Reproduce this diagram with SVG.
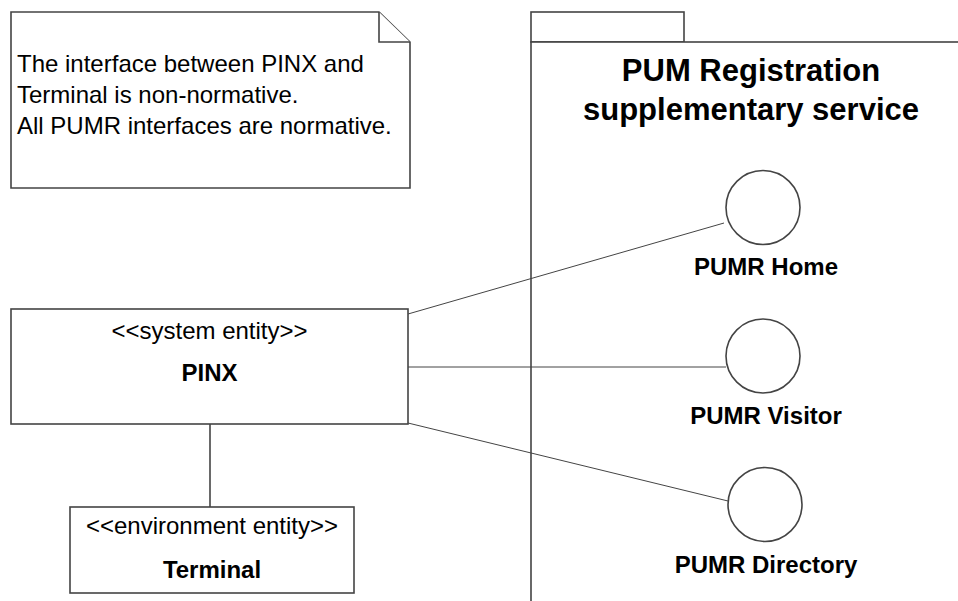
<svg xmlns="http://www.w3.org/2000/svg" width="958" height="601" viewBox="0 0 958 601">
<style>
.box{fill:#fff;stroke:#444;stroke-width:1.6}
.con{fill:none;stroke:#444;stroke-width:1}
.t{font-family:"Liberation Sans",Arial,sans-serif;font-size:24px;fill:#000}
.b{font-weight:bold}
.c{text-anchor:middle}
</style>
<rect width="958" height="601" fill="#fff"/>
<g id="package">
<rect class="box" x="531" y="12" width="153" height="30"/>
<rect class="box" x="531" y="42" width="500" height="600"/>
<text class="t b c" x="751" y="81" style="font-size:31px">PUM Registration</text>
<text class="t b c" x="751" y="120" style="font-size:31px">supplementary service</text>
</g>
<g id="note">
<path class="box" d="M11,12 H379 L410,42 V188 H11 Z"/>
<path class="box" fill="none" d="M379,12 V42 H410"/>
<text class="t" x="17" y="72">The interface between PINX and</text>
<text class="t" x="17" y="103">Terminal is non-normative.</text>
<text class="t" x="17" y="134">All PUMR interfaces are normative.</text>
</g>
<g id="connectors">
<line class="con" x1="408" y1="314" x2="724" y2="223"/>
<line class="con" x1="408" y1="367" x2="726" y2="367"/>
<line class="con" x1="408" y1="423" x2="728" y2="501"/>
<line class="con" x1="210" y1="424" x2="210" y2="507" style="stroke-width:1.6"/>
</g>
<g id="pinx">
<rect class="box" x="11" y="309" width="397" height="115"/>
<text class="t c" x="209.5" y="339">&lt;&lt;system entity&gt;&gt;</text>
<text class="t b c" x="209.5" y="381">PINX</text>
</g>
<g id="terminal">
<rect class="box" x="70" y="507" width="284" height="86"/>
<text class="t c" x="212" y="534">&lt;&lt;environment entity&gt;&gt;</text>
<text class="t b c" x="212" y="578">Terminal</text>
</g>
<g id="pumr-home">
<circle class="box" cx="763" cy="207.5" r="37"/>
<text class="t b c" x="766" y="275">PUMR Home</text>
</g>
<g id="pumr-visitor">
<circle class="box" cx="763" cy="356" r="37"/>
<text class="t b c" x="766" y="424">PUMR Visitor</text>
</g>
<g id="pumr-directory">
<circle class="box" cx="765" cy="504.5" r="37"/>
<text class="t b c" x="766" y="573">PUMR Directory</text>
</g>
</svg>
